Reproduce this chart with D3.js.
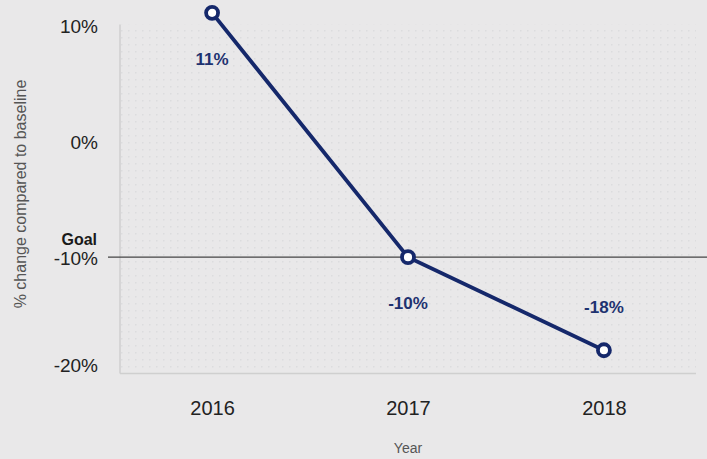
<!DOCTYPE html>
<html><head><meta charset="utf-8">
<script src="https://cdn.jsdelivr.net/npm/d3@7"></script>
<style>
html,body{margin:0;padding:0;background:#e9e8e9;}
svg{display:block;font-family:"Liberation Sans",Arial,sans-serif;}
</style></head>
<body>
<svg id="chart" width="707" height="459"></svg>
<script>
const years = ["2016", "2017", "2018"];
const values = [11, -10, -18];
const labels = ["11%", "-10%", "-18%"];
const yTicks = [10, 0, -10, -20];
const goalValue = -10;

(function () {
const W = 707, H = 459;
const svg = d3.select("#chart");
const mLeft = 120, mRight = 696, mTop = 24.5, mBottom = 373.5;

const x = d3.scalePoint().domain(years).range([mLeft, mRight]).padding(0.47);
const y = d3.scaleLinear().domain([-20, 10]).range([mBottom, mTop]);

svg.append("rect").attr("width", W).attr("height", H).attr("fill", "#e9e8e9");

const defs = svg.append("defs");
const pat = defs.append("pattern").attr("id", "dots").attr("patternUnits", "userSpaceOnUse")
  .attr("width", 7).attr("height", 7);
pat.append("rect").attr("x", 2).attr("y", 2).attr("width", 1.5).attr("height", 1.5).attr("fill", "#dcdcde");
svg.append("rect").attr("x", mLeft).attr("y", mTop).attr("width", mRight - mLeft).attr("height", mBottom - mTop)
  .attr("fill", "url(#dots)");

// axis lines
svg.append("line").attr("x1", mLeft).attr("x2", mLeft).attr("y1", mTop).attr("y2", mBottom)
  .attr("stroke", "#cfcfcf").attr("stroke-width", 1.5);
svg.append("line").attr("x1", mLeft).attr("x2", mRight).attr("y1", mBottom).attr("y2", mBottom)
  .attr("stroke", "#cfcfcf").attr("stroke-width", 1.5);

// y tick labels
const yAxis = d3.axisLeft(y).tickValues(yTicks).tickSize(0).tickPadding(0).tickFormat(d => d + "%");
const gy = svg.append("g").attr("transform", `translate(98,0)`).call(yAxis);
gy.select(".domain").remove();
gy.selectAll("text").attr("font-size", 19).attr("fill", "#222").attr("font-family", null)
  .attr("dy", d => d === -20 ? "-0.1em" : "0.4em");

// goal label
svg.append("text").attr("x", 97).attr("y", y(goalValue) - 18).attr("dy", "0.35em").attr("text-anchor", "end")
  .attr("font-size", 16).attr("font-weight", "bold").attr("fill", "#1a1a1a").text("Goal");

// goal line
svg.append("line").attr("x1", 108).attr("x2", W).attr("y1", y(goalValue)).attr("y2", y(goalValue))
  .attr("stroke", "#444").attr("stroke-width", 1.4);

// x axis labels
const xAxis = d3.axisBottom(x).tickSize(0).tickPadding(0);
const gx = svg.append("g").attr("transform", `translate(0,408)`).call(xAxis);
gx.select(".domain").remove();
gx.selectAll("text").attr("font-size", 20).attr("fill", "#222").attr("font-family", null)
  .attr("y", 0).attr("dy", "0.35em");

// axis titles
svg.append("text").attr("x", x("2017")).attr("y", 448).attr("dy", "0.35em").attr("text-anchor", "middle")
  .attr("font-size", 14).attr("fill", "#555").text("Year");
svg.append("text").attr("transform", `translate(20,194) rotate(-90)`).attr("dy", "0.35em").attr("text-anchor", "middle")
  .attr("font-size", 16).attr("fill", "#555").text("% change compared to baseline");

// line
const data = years.map((yr, i) => ({yr, v: values[i], label: labels[i]}));
svg.append("path").datum(data)
  .attr("d", d3.line().x(d => x(d.yr)).y(d => y(d.v)))
  .attr("fill", "none").attr("stroke", "#15286b").attr("stroke-width", 3.8);

svg.selectAll("circle.pt").data(data).join("circle").attr("class", "pt")
  .attr("cx", d => x(d.yr)).attr("cy", d => y(d.v)).attr("r", 6)
  .attr("fill", "#fff").attr("stroke", "#15286b").attr("stroke-width", 3.8);

svg.selectAll("text.dl").data(data).join("text").attr("class", "dl")
  .attr("x", d => x(d.yr)).attr("y", (d, i) => i === 2 ? y(d.v) - 43 : y(d.v) + 46)
  .attr("dy", "0.35em").attr("text-anchor", "middle")
  .attr("font-size", 17).attr("font-weight", "bold").attr("fill", "#1e3270")
  .text(d => d.label);
})();
</script>
</body></html>
